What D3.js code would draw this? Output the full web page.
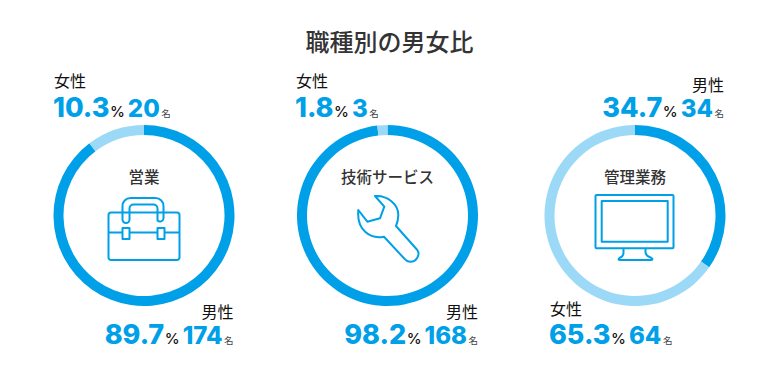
<!DOCTYPE html>
<html lang="ja">
<head>
<meta charset="utf-8">
<title>職種別の男女比</title>
<script src="https://d3js.org/d3.v7.min.js"></script>
<style>
  body { margin: 0; background: #fff; }
  svg { display: block; }
  text { font-family: "Noto Sans CJK JP", sans-serif; }
  .num { font-family: Inter, "Liberation Sans", sans-serif; font-weight: 800; fill: #00a0e9; }
  .pct { font-family: Inter, "Liberation Sans", sans-serif; font-weight: 500; fill: #111; }
  .icon { fill: none; stroke: #00a0e9; stroke-width: 2; stroke-linejoin: round; }
</style>
</head>
<body>
<script>
var title = "職種別の男女比";
var categories = ["営業", "技術サービス", "管理業務"];
var malePct = [89.7, 98.2, 34.7];
var femalePct = [10.3, 1.8, 65.3];
var maleCount = [174, 168, 34];
var femaleCount = [20, 3, 64];

var width = 780, height = 380;
var cxs = [144, 387.5, 635], cy = 215.5;
var outer = 90.5, inner = 80.5;
var blue = "#00a0e9", pale = "#9bd9f6";

// where each label row sits: x, anchor, baseline of the word, baseline of the numbers
var maleRows = [
  {x: 233.5, anchor: "end", y1: 318, y2: 344},
  {x: 478, anchor: "end", y1: 318, y2: 344},
  {x: 724, anchor: "end", y1: 91, y2: 117}
];
var femaleRows = [
  {x: 53, anchor: "start", y1: 87, y2: 117},
  {x: 295, anchor: "start", y1: 87, y2: 117},
  {x: 549, anchor: "start", y1: 315, y2: 344}
];

// icons, relative to the ring centre
var icons = [
  ["M-33.5 -3H33a2.5 2.5 0 0 1 2.5 2.5V42a2.5 2.5 0 0 1 -2.5 2.5H-33a2.5 2.5 0 0 1 -2.5 -2.5V-0.5a2.5 2.5 0 0 1 2.5 -2.5Z",
   "M-35.5 17H-21.5M-14.5 17H13.5M20.5 17H35.5",
   "M-21.5 12.5H-14.5V23.5H-21.5ZM13.5 12.5H20.5V23.5H13.5Z",
   "M-21.5 3V-9a8 8 0 0 1 8 -8.5H11.5a8 8 0 0 1 8 8.5V3a3.5 3.5 0 0 1 -6 2V-7a4 4 0 0 0 -4 -4H-10.5a4 4 0 0 0 -4 4V4a3.5 3.5 0 0 1 -7 0Z"],
  ["M-12.5 -19.5C0 -20.5 11 -11 10.8 -0.5C10.8 3 10 7 8.5 10.5L29.8 34.5C33 39 29 46.5 22.5 46.2C20 46 18 44.5 16.5 42.8L-3.5 21.2C-17 24 -31 15 -29.2 -5.5L-20.2 6.2L-7.5 2.8L-3.2 -8.8Z"],
  ["M-38.5 -20.5H37.5a1 1 0 0 1 1 1V31.8a1 1 0 0 1 -1 1H-38.5a1 1 0 0 1 -1 -1V-19.5a1 1 0 0 1 1 -1Z",
   "M-33.3 -14.5H32.7V26.2H-33.3Z",
   "M-11.5 33V37C-11.5 40 -13 41.5 -15.5 42.5C-17 43.5 -16.5 44.5 -15 44.5H16C17.5 44.5 18 43.5 16.5 42.5C14 41.5 10.5 40 10.5 37V33"]
];

var svg = d3.select("body").append("svg")
  .attr("width", width)
  .attr("height", height);

svg.append("text")
  .attr("x", 389.5)
  .attr("y", 50.5)
  .attr("text-anchor", "middle")
  .attr("font-size", 24)
  .attr("font-weight", 500)
  .attr("fill", "#333")
  .text(title);

var pie = d3.pie().sort(null);
var arc = d3.arc().innerRadius(inner).outerRadius(outer);
var fmt = d3.format(".1f");

function labelRow(row, word, pct, count) {
  svg.append("text")
    .attr("x", row.x + (row.anchor === "start" ? 1 : 0))
    .attr("y", row.y1)
    .attr("text-anchor", row.anchor)
    .attr("font-size", 16)
    .attr("font-weight", 400)
    .attr("fill", "#111")
    .text(word);

  var t = svg.append("text")
    .attr("x", row.x)
    .attr("y", row.y2)
    .attr("text-anchor", row.anchor);
  t.append("tspan").attr("class", "num").attr("font-size", 27).text(fmt(pct));
  t.append("tspan").attr("class", "pct").attr("font-size", 15).attr("dx", 0.5).text("%");
  t.append("tspan").attr("class", "num").attr("font-size", 24).attr("dx", 3).text(count);
  t.append("tspan").attr("font-size", 9.5).attr("fill", "#444").attr("dx", 1.5).text("名");
}

categories.forEach(function (cat, i) {
  var g = svg.append("g").attr("transform", "translate(" + cxs[i] + "," + cy + ")");

  // male first so the female part ends at 12 o'clock
  g.selectAll("path.ring")
    .data(pie([malePct[i], femalePct[i]]))
    .enter().append("path")
      .attr("class", "ring")
      .attr("d", arc)
      .attr("fill", function (d, j) { return j === 0 ? blue : pale; });

  g.append("text")
    .attr("y", -32.5)
    .attr("text-anchor", "middle")
    .attr("font-size", 15.5)
    .attr("font-weight", 500)
    .attr("fill", "#333")
    .text(cat);

  g.selectAll("path.icon")
    .data(icons[i])
    .enter().append("path")
      .attr("class", "icon")
      .attr("d", function (d) { return d; });

  labelRow(maleRows[i], "男性", malePct[i], maleCount[i]);
  labelRow(femaleRows[i], "女性", femalePct[i], femaleCount[i]);
});
</script>
</body>
</html>
